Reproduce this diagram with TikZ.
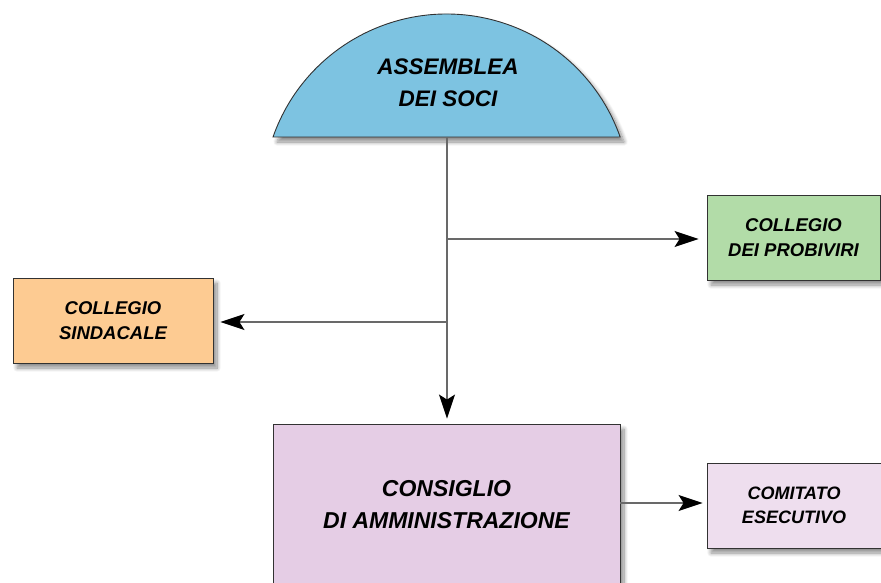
\documentclass[tikz,border=0pt]{standalone}
\usepackage{fontspec}
\setmainfont{Liberation Sans}
\usetikzlibrary{arrows.meta,shadows.blur}
\definecolor{asmblue}{RGB}{125,195,225}
\definecolor{probgreen}{RGB}{178,220,168}
\definecolor{sindorange}{RGB}{253,203,146}
\definecolor{cdapurple}{RGB}{229,205,229}
\definecolor{compurple}{RGB}{238,222,238}
\definecolor{linegray}{RGB}{105,105,105}
\definecolor{bordergray}{RGB}{50,50,50}
\tikzset{
  softshadow/.style={blur shadow={shadow xshift=4pt, shadow yshift=-5pt, shadow blur steps=10, shadow blur radius=4pt, shadow opacity=45}},
  orgbox/.style={draw=bordergray, line width=0.9pt, align=center, inner sep=0pt,
    font=\bfseries\itshape\fontsize{18.5}{25}\selectfont, softshadow},
  bigfont/.style={font=\bfseries\itshape\fontsize{22.5}{32}\selectfont, align=center},
  conn/.style={draw=linegray, line width=1.3pt, -{Stealth[length=24pt,width=16pt,inset=5pt,black]}}
}
\begin{document}
\begin{tikzpicture}[x=1pt,y=-1pt]
\useasboundingbox (0,0) rectangle (881,583);
\clip (0,0) rectangle (881,583);
% semicircle
\path[fill=asmblue, draw=bordergray, line width=0.9pt, softshadow]
  (273,137) arc[start angle=-160.63, end angle=-19.37, radius=184] -- cycle;
\node[bigfont] (asm) at (448,83) {ASSEMBLEA\\DEI SOCI};
\coordinate (asmbase) at (447,137);
\coordinate (j1) at (447,239);
\coordinate (j2) at (447,322);
% boxes
\node[orgbox, fill=probgreen, minimum width=173pt, minimum height=85pt] (prob) at (793.5,237.5) {COLLEGIO\\DEI PROBIVIRI};
\node[orgbox, fill=sindorange, minimum width=200pt, minimum height=85pt] (sind) at (113,320.5) {COLLEGIO\\SINDACALE};
\node[orgbox, fill=cdapurple, minimum width=347pt, minimum height=162pt,
  font=\bfseries\itshape\fontsize{23}{32}\selectfont] (cda) at (446.5,505) {CONSIGLIO\\DI AMMINISTRAZIONE};
\node[orgbox, fill=compurple, minimum width=174pt, minimum height=85pt,
  font=\bfseries\itshape\fontsize{18}{24}\selectfont] (com) at (794,505.5) {COMITATO\\ESECUTIVO};
% connectors
\draw[conn, shorten >=5pt] (asmbase) -- (asmbase |- cda.north);
\draw[conn, shorten >=8pt] (j1) -- (j1 -| prob.west);
\draw[conn, shorten >=7pt] (j2) -- (j2 -| sind.east);
\coordinate (c1) at (cda.east |- 0,503);
\draw[conn, shorten >=4pt] (c1) -- (c1 -| com.west);
\end{tikzpicture}
\end{document}
